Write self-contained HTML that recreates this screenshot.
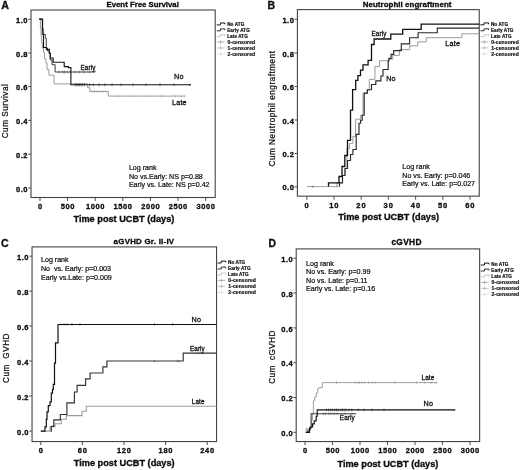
<!DOCTYPE html>
<html>
<head>
<meta charset="utf-8">
<title>Figure</title>
<style>
html, body { margin: 0; padding: 0; background: #ffffff; }
body { width: 520px; height: 470px; overflow: hidden; font-family: "Liberation Sans", sans-serif; }
svg { display: block; font-family: "Liberation Sans", sans-serif; filter: blur(0.35px); }
</style>
</head>
<body>
<svg width="520" height="470" viewBox="0 0 520 470">
<rect x="0" y="0" width="520" height="470" fill="#ffffff"/>
<rect x="31.00" y="10.00" width="184.20" height="187.50" fill="none" stroke="#444444" stroke-width="1.1"/>
<text x="1.20" y="9.10" font-size="10.70" font-weight="bold" text-anchor="start" fill="#111" stroke="#000" stroke-width="0.3">A</text>
<text x="142.70" y="7.30" font-size="7.80" font-weight="bold" text-anchor="middle" fill="#111" stroke="#000" stroke-width="0.3">Event Free Survival</text>
<line x1="28.20" y1="19.25" x2="31.00" y2="19.25" stroke="#444444" stroke-width="0.95"/>
<text x="28.00" y="22.85" font-size="7.50" font-weight="bold" text-anchor="end" fill="#111" letter-spacing="0.50" stroke="#000" stroke-width="0.3">1.0</text>
<line x1="28.20" y1="53.00" x2="31.00" y2="53.00" stroke="#444444" stroke-width="0.95"/>
<text x="28.00" y="56.60" font-size="7.50" font-weight="bold" text-anchor="end" fill="#111" letter-spacing="0.50" stroke="#000" stroke-width="0.3">0.8</text>
<line x1="28.20" y1="86.50" x2="31.00" y2="86.50" stroke="#444444" stroke-width="0.95"/>
<text x="28.00" y="90.10" font-size="7.50" font-weight="bold" text-anchor="end" fill="#111" letter-spacing="0.50" stroke="#000" stroke-width="0.3">0.6</text>
<line x1="28.20" y1="120.40" x2="31.00" y2="120.40" stroke="#444444" stroke-width="0.95"/>
<text x="28.00" y="124.00" font-size="7.50" font-weight="bold" text-anchor="end" fill="#111" letter-spacing="0.50" stroke="#000" stroke-width="0.3">0.4</text>
<line x1="28.20" y1="154.20" x2="31.00" y2="154.20" stroke="#444444" stroke-width="0.95"/>
<text x="28.00" y="157.80" font-size="7.50" font-weight="bold" text-anchor="end" fill="#111" letter-spacing="0.50" stroke="#000" stroke-width="0.3">0.2</text>
<line x1="28.20" y1="188.00" x2="31.00" y2="188.00" stroke="#444444" stroke-width="0.95"/>
<text x="28.00" y="191.60" font-size="7.50" font-weight="bold" text-anchor="end" fill="#111" letter-spacing="0.50" stroke="#000" stroke-width="0.3">0.0</text>
<line x1="40.00" y1="197.50" x2="40.00" y2="201.00" stroke="#444444" stroke-width="0.95"/>
<text x="40.30" y="209.00" font-size="7.50" font-weight="bold" text-anchor="middle" fill="#111" letter-spacing="0.60" stroke="#000" stroke-width="0.3">0</text>
<line x1="67.60" y1="197.50" x2="67.60" y2="201.00" stroke="#444444" stroke-width="0.95"/>
<text x="67.90" y="209.00" font-size="7.50" font-weight="bold" text-anchor="middle" fill="#111" letter-spacing="0.60" stroke="#000" stroke-width="0.3">500</text>
<line x1="95.20" y1="197.50" x2="95.20" y2="201.00" stroke="#444444" stroke-width="0.95"/>
<text x="95.50" y="209.00" font-size="7.50" font-weight="bold" text-anchor="middle" fill="#111" letter-spacing="0.60" stroke="#000" stroke-width="0.3">1000</text>
<line x1="122.80" y1="197.50" x2="122.80" y2="201.00" stroke="#444444" stroke-width="0.95"/>
<text x="123.10" y="209.00" font-size="7.50" font-weight="bold" text-anchor="middle" fill="#111" letter-spacing="0.60" stroke="#000" stroke-width="0.3">1500</text>
<line x1="150.40" y1="197.50" x2="150.40" y2="201.00" stroke="#444444" stroke-width="0.95"/>
<text x="150.70" y="209.00" font-size="7.50" font-weight="bold" text-anchor="middle" fill="#111" letter-spacing="0.60" stroke="#000" stroke-width="0.3">2000</text>
<line x1="178.00" y1="197.50" x2="178.00" y2="201.00" stroke="#444444" stroke-width="0.95"/>
<text x="178.30" y="209.00" font-size="7.50" font-weight="bold" text-anchor="middle" fill="#111" letter-spacing="0.60" stroke="#000" stroke-width="0.3">2500</text>
<line x1="205.70" y1="197.50" x2="205.70" y2="201.00" stroke="#444444" stroke-width="0.95"/>
<text x="206.00" y="209.00" font-size="7.50" font-weight="bold" text-anchor="middle" fill="#111" letter-spacing="0.60" stroke="#000" stroke-width="0.3">3000</text>
<text x="7.70" y="111.00" font-size="8.20" text-anchor="middle" fill="#111" letter-spacing="0.50" transform="rotate(-90 7.70 111.00)" stroke="#111" stroke-width="0.25">Cum Survival</text>
<text x="123.90" y="221.80" font-size="9.20" font-weight="bold" text-anchor="middle" fill="#111" stroke="#000" stroke-width="0.3">Time post UCBT (days)</text>
<path d="M39.20 19.10 L40.40 19.10 L40.40 28.00 L41.00 28.00 L41.00 36.00 L41.60 36.00 L41.60 43.00 L42.40 43.00 L42.40 48.00 L43.50 48.00 L43.50 52.30 L44.50 52.30 L44.50 59.00 L45.90 59.00 L45.90 62.80 L47.00 62.80 L47.00 69.50 L48.90 69.50 L48.90 75.20 L54.10 75.20 L54.10 83.90 L87.60 83.90 L87.60 87.70 L89.90 87.70 L89.90 91.50 L108.30 91.50 L108.30 96.10 L185.00 96.10" fill="none" stroke="#9a9a9a" stroke-width="1.00" stroke-linejoin="miter"/>
<line x1="92.00" y1="90.10" x2="92.00" y2="92.90" stroke="#9a9a9a" stroke-width="0.50"/>
<line x1="94.50" y1="90.10" x2="94.50" y2="92.90" stroke="#9a9a9a" stroke-width="0.50"/>
<line x1="97.00" y1="90.10" x2="97.00" y2="92.90" stroke="#9a9a9a" stroke-width="0.50"/>
<line x1="100.00" y1="90.10" x2="100.00" y2="92.90" stroke="#9a9a9a" stroke-width="0.50"/>
<line x1="103.00" y1="90.10" x2="103.00" y2="92.90" stroke="#9a9a9a" stroke-width="0.50"/>
<line x1="106.00" y1="90.10" x2="106.00" y2="92.90" stroke="#9a9a9a" stroke-width="0.50"/>
<line x1="118.00" y1="94.70" x2="118.00" y2="97.50" stroke="#9a9a9a" stroke-width="0.50"/>
<line x1="131.00" y1="94.70" x2="131.00" y2="97.50" stroke="#9a9a9a" stroke-width="0.50"/>
<line x1="147.00" y1="94.70" x2="147.00" y2="97.50" stroke="#9a9a9a" stroke-width="0.50"/>
<line x1="161.00" y1="94.70" x2="161.00" y2="97.50" stroke="#9a9a9a" stroke-width="0.50"/>
<line x1="175.00" y1="94.70" x2="175.00" y2="97.50" stroke="#9a9a9a" stroke-width="0.50"/>
<line x1="181.00" y1="94.70" x2="181.00" y2="97.50" stroke="#9a9a9a" stroke-width="0.50"/>
<line x1="185.00" y1="94.70" x2="185.00" y2="97.50" stroke="#9a9a9a" stroke-width="0.50"/>
<path d="M39.20 19.10 L42.30 19.10 L42.30 34.40 L45.30 34.40 L45.30 38.50 L46.30 38.50 L46.30 48.00 L47.50 48.00 L47.50 51.00 L49.30 51.00 L49.30 53.20 L50.20 53.20 L50.20 59.90 L52.00 59.90 L52.00 64.70 L55.10 64.70 L55.10 72.00 L95.00 72.00 L95.00 70.60" fill="none" stroke="#3c3c3c" stroke-width="1.00" stroke-linejoin="miter"/>
<line x1="58.90" y1="70.50" x2="58.90" y2="73.50" stroke="#3c3c3c" stroke-width="0.50"/>
<line x1="62.70" y1="70.50" x2="62.70" y2="73.50" stroke="#3c3c3c" stroke-width="0.50"/>
<line x1="64.60" y1="70.50" x2="64.60" y2="73.50" stroke="#3c3c3c" stroke-width="0.50"/>
<line x1="67.50" y1="70.50" x2="67.50" y2="73.50" stroke="#3c3c3c" stroke-width="0.50"/>
<line x1="70.40" y1="70.50" x2="70.40" y2="73.50" stroke="#3c3c3c" stroke-width="0.50"/>
<line x1="75.10" y1="70.50" x2="75.10" y2="73.50" stroke="#3c3c3c" stroke-width="0.50"/>
<line x1="79.00" y1="70.50" x2="79.00" y2="73.50" stroke="#3c3c3c" stroke-width="0.50"/>
<line x1="83.80" y1="70.50" x2="83.80" y2="73.50" stroke="#3c3c3c" stroke-width="0.50"/>
<line x1="89.50" y1="70.50" x2="89.50" y2="73.50" stroke="#3c3c3c" stroke-width="0.50"/>
<path d="M39.20 19.10 L42.60 19.10 L42.60 29.00 L43.10 29.00 L43.10 34.40 L43.50 34.40 L43.50 38.00 L43.50 47.50 L46.40 47.50 L46.40 49.40 L49.30 49.40 L49.30 53.20 L50.30 53.20 L50.30 58.00 L53.10 58.00 L53.10 62.20 L64.20 62.20 L64.20 66.60 L68.40 66.60 L68.40 67.60 L70.90 67.60 L70.90 84.80 L190.00 84.80" fill="none" stroke="#111111" stroke-width="1.10" stroke-linejoin="miter"/>
<line x1="75.00" y1="83.30" x2="75.00" y2="86.30" stroke="#111111" stroke-width="0.50"/>
<line x1="76.50" y1="83.30" x2="76.50" y2="86.30" stroke="#111111" stroke-width="0.50"/>
<line x1="78.00" y1="83.30" x2="78.00" y2="86.30" stroke="#111111" stroke-width="0.50"/>
<line x1="79.50" y1="83.30" x2="79.50" y2="86.30" stroke="#111111" stroke-width="0.50"/>
<line x1="81.00" y1="83.30" x2="81.00" y2="86.30" stroke="#111111" stroke-width="0.50"/>
<line x1="82.50" y1="83.30" x2="82.50" y2="86.30" stroke="#111111" stroke-width="0.50"/>
<line x1="84.50" y1="83.30" x2="84.50" y2="86.30" stroke="#111111" stroke-width="0.50"/>
<line x1="89.50" y1="83.30" x2="89.50" y2="86.30" stroke="#111111" stroke-width="0.50"/>
<line x1="93.30" y1="83.30" x2="93.30" y2="86.30" stroke="#111111" stroke-width="0.50"/>
<line x1="99.00" y1="83.30" x2="99.00" y2="86.30" stroke="#111111" stroke-width="0.50"/>
<line x1="104.80" y1="83.30" x2="104.80" y2="86.30" stroke="#111111" stroke-width="0.50"/>
<line x1="112.00" y1="83.30" x2="112.00" y2="86.30" stroke="#111111" stroke-width="0.50"/>
<line x1="121.00" y1="83.30" x2="121.00" y2="86.30" stroke="#111111" stroke-width="0.50"/>
<line x1="133.00" y1="83.30" x2="133.00" y2="86.30" stroke="#111111" stroke-width="0.50"/>
<line x1="146.00" y1="83.30" x2="146.00" y2="86.30" stroke="#111111" stroke-width="0.50"/>
<line x1="160.00" y1="83.30" x2="160.00" y2="86.30" stroke="#111111" stroke-width="0.50"/>
<line x1="174.00" y1="83.30" x2="174.00" y2="86.30" stroke="#111111" stroke-width="0.50"/>
<circle cx="190" cy="84.8" r="1" fill="#3c3c3c"/>
<text x="80.50" y="70.30" font-size="6.30" text-anchor="start" fill="#111" letter-spacing="0.15" stroke="#111" stroke-width="0.3">Early</text>
<text x="174.00" y="78.50" font-size="7.20" text-anchor="start" fill="#111" letter-spacing="0.20" stroke="#111" stroke-width="0.3">No</text>
<text x="172.00" y="104.50" font-size="7.20" text-anchor="start" fill="#111" letter-spacing="0.20" stroke="#111" stroke-width="0.3">Late</text>
<text x="128.90" y="170.10" font-size="7.10" text-anchor="start" fill="#111" stroke="#111" stroke-width="0.22">Log rank</text>
<text x="128.90" y="178.70" font-size="7.10" text-anchor="start" fill="#111" stroke="#111" stroke-width="0.22">No vs.Early: NS p=0.88</text>
<text x="128.90" y="187.40" font-size="7.10" text-anchor="start" fill="#111" stroke="#111" stroke-width="0.22">Early vs. Late: NS p=0.42</text>
<path d="M216.70 24.90 h3.7 v-1.9 h4.5 v1.3" fill="none" stroke="#151515" stroke-width="1.0"/>
<text x="227.20" y="26.00" font-size="4.65" font-weight="bold" text-anchor="start" fill="#111" letter-spacing="0.08" stroke="#111" stroke-width="0.2">No ATG</text>
<path d="M216.70 30.82 h3.7 v-1.9 h4.5 v1.3" fill="none" stroke="#2e2e2e" stroke-width="1.0"/>
<text x="227.20" y="31.92" font-size="4.65" font-weight="bold" text-anchor="start" fill="#111" letter-spacing="0.08" stroke="#111" stroke-width="0.2">Early ATG</text>
<path d="M216.70 36.74 h3.7 v-1.9 h4.5 v1.3" fill="none" stroke="#b0b0b0" stroke-width="0.7"/>
<text x="227.20" y="37.84" font-size="4.65" font-weight="bold" text-anchor="start" fill="#111" letter-spacing="0.08" stroke="#111" stroke-width="0.2">Late ATG</text>
<path d="M217.00 42.06 h7.4 M220.60 40.36 v3.4" fill="none" stroke="#6a6a6a" stroke-width="0.5"/>
<text x="227.50" y="43.76" font-size="5.00" font-weight="bold" text-anchor="start" fill="#111" letter-spacing="0.10" stroke="#111" stroke-width="0.2">0-censored</text>
<path d="M217.00 47.98 h7.4 M220.60 46.28 v3.4" fill="none" stroke="#8a8a8a" stroke-width="0.5"/>
<text x="227.50" y="49.68" font-size="5.00" font-weight="bold" text-anchor="start" fill="#111" letter-spacing="0.10" stroke="#111" stroke-width="0.2">1-censored</text>
<path d="M217.00 53.90 h7.4 M220.60 52.20 v3.4" fill="none" stroke="#c4c4c4" stroke-width="0.5"/>
<text x="227.50" y="55.60" font-size="5.00" font-weight="bold" text-anchor="start" fill="#111" letter-spacing="0.10" stroke="#111" stroke-width="0.2">2-censored</text>
<rect x="297.40" y="9.60" width="181.85" height="186.55" fill="none" stroke="#444444" stroke-width="1.1"/>
<text x="267.50" y="9.25" font-size="10.50" font-weight="bold" text-anchor="start" fill="#111" stroke="#000" stroke-width="0.3">B</text>
<text x="407.10" y="6.90" font-size="7.90" font-weight="bold" text-anchor="middle" fill="#111" letter-spacing="0.07" stroke="#000" stroke-width="0.3">Neutrophil engraftment</text>
<line x1="294.60" y1="19.25" x2="297.40" y2="19.25" stroke="#444444" stroke-width="0.95"/>
<text x="294.40" y="22.85" font-size="7.50" font-weight="bold" text-anchor="end" fill="#111" letter-spacing="0.50" stroke="#000" stroke-width="0.3">1.0</text>
<line x1="294.60" y1="53.00" x2="297.40" y2="53.00" stroke="#444444" stroke-width="0.95"/>
<text x="294.40" y="56.60" font-size="7.50" font-weight="bold" text-anchor="end" fill="#111" letter-spacing="0.50" stroke="#000" stroke-width="0.3">0.8</text>
<line x1="294.60" y1="86.50" x2="297.40" y2="86.50" stroke="#444444" stroke-width="0.95"/>
<text x="294.40" y="90.10" font-size="7.50" font-weight="bold" text-anchor="end" fill="#111" letter-spacing="0.50" stroke="#000" stroke-width="0.3">0.6</text>
<line x1="294.60" y1="120.00" x2="297.40" y2="120.00" stroke="#444444" stroke-width="0.95"/>
<text x="294.40" y="123.60" font-size="7.50" font-weight="bold" text-anchor="end" fill="#111" letter-spacing="0.50" stroke="#000" stroke-width="0.3">0.4</text>
<line x1="294.60" y1="153.50" x2="297.40" y2="153.50" stroke="#444444" stroke-width="0.95"/>
<text x="294.40" y="157.10" font-size="7.50" font-weight="bold" text-anchor="end" fill="#111" letter-spacing="0.50" stroke="#000" stroke-width="0.3">0.2</text>
<line x1="294.60" y1="186.80" x2="297.40" y2="186.80" stroke="#444444" stroke-width="0.95"/>
<text x="294.40" y="190.40" font-size="7.50" font-weight="bold" text-anchor="end" fill="#111" letter-spacing="0.50" stroke="#000" stroke-width="0.3">0.0</text>
<line x1="306.80" y1="196.15" x2="306.80" y2="199.65" stroke="#444444" stroke-width="0.95"/>
<text x="307.10" y="207.65" font-size="7.50" font-weight="bold" text-anchor="middle" fill="#111" letter-spacing="1.00" stroke="#000" stroke-width="0.3">0</text>
<line x1="334.00" y1="196.15" x2="334.00" y2="199.65" stroke="#444444" stroke-width="0.95"/>
<text x="334.30" y="207.65" font-size="7.50" font-weight="bold" text-anchor="middle" fill="#111" letter-spacing="1.00" stroke="#000" stroke-width="0.3">10</text>
<line x1="361.20" y1="196.15" x2="361.20" y2="199.65" stroke="#444444" stroke-width="0.95"/>
<text x="361.50" y="207.65" font-size="7.50" font-weight="bold" text-anchor="middle" fill="#111" letter-spacing="1.00" stroke="#000" stroke-width="0.3">20</text>
<line x1="388.40" y1="196.15" x2="388.40" y2="199.65" stroke="#444444" stroke-width="0.95"/>
<text x="388.70" y="207.65" font-size="7.50" font-weight="bold" text-anchor="middle" fill="#111" letter-spacing="1.00" stroke="#000" stroke-width="0.3">30</text>
<line x1="415.60" y1="196.15" x2="415.60" y2="199.65" stroke="#444444" stroke-width="0.95"/>
<text x="415.90" y="207.65" font-size="7.50" font-weight="bold" text-anchor="middle" fill="#111" letter-spacing="1.00" stroke="#000" stroke-width="0.3">40</text>
<line x1="442.80" y1="196.15" x2="442.80" y2="199.65" stroke="#444444" stroke-width="0.95"/>
<text x="443.10" y="207.65" font-size="7.50" font-weight="bold" text-anchor="middle" fill="#111" letter-spacing="1.00" stroke="#000" stroke-width="0.3">50</text>
<line x1="470.00" y1="196.15" x2="470.00" y2="199.65" stroke="#444444" stroke-width="0.95"/>
<text x="470.30" y="207.65" font-size="7.50" font-weight="bold" text-anchor="middle" fill="#111" letter-spacing="1.00" stroke="#000" stroke-width="0.3">60</text>
<text x="274.50" y="108.50" font-size="8.20" text-anchor="middle" fill="#111" letter-spacing="0.50" transform="rotate(-90 274.50 108.50)" stroke="#111" stroke-width="0.25">Cum Neutrophil engraftment</text>
<text x="388.60" y="220.30" font-size="9.20" font-weight="bold" text-anchor="middle" fill="#111" stroke="#000" stroke-width="0.3">Time post UCBT (days)</text>
<line x1="307" y1="186.60" x2="339.5" y2="186.60" stroke="#777" stroke-width="0.7"/>
<path d="M311.2 186.60 l2.2 -1.2 v2.4 z" fill="#666"/>
<path d="M336.80 186.60 L336.80 182.80 L339.50 182.80 L339.50 182.80 L342.50 182.80 L342.50 175.50 L345.00 175.50 L345.00 168.50 L346.90 168.50 L346.90 148.50 L349.50 148.50 L349.50 143.40 L352.90 143.40 L352.90 136.40 L355.60 136.40 L355.60 119.20 L360.60 119.20 L360.60 115.20 L363.00 115.20 L363.00 93.40 L367.30 93.40 L367.30 89.70 L369.30 89.70 L369.30 79.40 L374.90 79.40 L374.90 66.60 L379.50 66.60 L379.50 60.70 L388.80 60.70 L388.80 59.20 L392.70 59.20 L392.70 55.40 L399.40 55.40 L399.40 49.60 L409.60 49.60 L409.60 45.80 L417.70 45.80 L417.70 41.90 L426.30 41.90 L426.30 37.70 L461.90 37.70 L461.90 33.80 L479.25 33.80" fill="none" stroke="#9a9a9a" stroke-width="1.00" stroke-linejoin="miter"/>
<path d="M339.50 186.60 L339.50 182.80 L342.50 182.80 L342.50 175.50 L345.00 175.50 L345.00 168.50 L347.50 168.50 L347.50 160.50 L350.50 160.50 L350.50 154.50 L352.90 154.50 L352.90 149.50 L356.20 149.50 L356.20 134.30 L359.00 134.30 L359.00 123.20 L360.60 123.20 L360.60 120.20 L362.20 120.20 L362.20 115.20 L364.20 115.20 L364.20 93.10 L367.30 93.10 L367.30 89.70 L371.50 89.70 L371.50 84.50 L375.80 84.50 L375.80 80.80 L380.90 80.80 L380.90 76.00 L383.00 76.00 L383.00 69.50 L388.20 69.50 L388.20 61.20 L388.80 61.20 L388.80 58.30 L391.10 58.30 L391.10 54.40 L393.70 54.40 L393.70 50.60 L401.30 50.60 L401.30 43.80 L409.60 43.80 L409.60 37.70 L418.10 37.70 L418.10 32.70 L437.30 32.70 L437.30 28.10 L479.25 28.10" fill="none" stroke="#2a2a2a" stroke-width="1.15" stroke-linejoin="miter"/>
<path d="M328.50 186.60 L328.50 182.80 L339.00 182.80 L339.00 176.50 L342.00 176.50 L342.00 166.50 L344.80 166.50 L344.80 155.50 L347.50 155.50 L347.50 140.40 L350.50 140.40 L350.50 110.10 L352.60 110.10 L352.60 89.70 L355.70 89.70 L355.70 80.30 L357.90 80.30 L357.90 75.70 L360.50 75.70 L360.50 70.10 L363.00 70.10 L363.00 64.90 L368.10 64.90 L368.10 60.30 L371.50 60.30 L371.50 44.50 L374.10 44.50 L374.10 39.00 L390.80 39.00 L390.80 34.20 L402.70 34.20 L402.70 29.40 L421.20 29.40 L421.20 24.20 L479.25 24.20" fill="none" stroke="#111111" stroke-width="1.30" stroke-linejoin="miter"/>
<text x="371.50" y="36.40" font-size="6.30" text-anchor="start" fill="#111" letter-spacing="0.15" stroke="#111" stroke-width="0.3">Early</text>
<text x="386.20" y="81.20" font-size="7.20" text-anchor="start" fill="#111" letter-spacing="0.20" stroke="#111" stroke-width="0.3">No</text>
<text x="445.30" y="45.70" font-size="7.20" text-anchor="start" fill="#111" letter-spacing="0.20" stroke="#111" stroke-width="0.3">Late</text>
<text x="402.30" y="169.40" font-size="7.10" text-anchor="start" fill="#111" stroke="#111" stroke-width="0.22">Log rank</text>
<text x="402.30" y="177.80" font-size="7.10" text-anchor="start" fill="#111" stroke="#111" stroke-width="0.22">No vs. Early: p=0.046</text>
<text x="402.30" y="186.30" font-size="7.10" text-anchor="start" fill="#111" stroke="#111" stroke-width="0.22">Early vs. Late: p=0.027</text>
<path d="M480.40 24.80 h3.7 v-1.9 h4.5 v1.3" fill="none" stroke="#151515" stroke-width="1.0"/>
<text x="490.90" y="25.90" font-size="4.65" font-weight="bold" text-anchor="start" fill="#111" letter-spacing="0.08" stroke="#111" stroke-width="0.2">No ATG</text>
<path d="M480.40 30.72 h3.7 v-1.9 h4.5 v1.3" fill="none" stroke="#2e2e2e" stroke-width="1.0"/>
<text x="490.90" y="31.82" font-size="4.65" font-weight="bold" text-anchor="start" fill="#111" letter-spacing="0.08" stroke="#111" stroke-width="0.2">Early ATG</text>
<path d="M480.40 36.64 h3.7 v-1.9 h4.5 v1.3" fill="none" stroke="#b0b0b0" stroke-width="0.7"/>
<text x="490.90" y="37.74" font-size="4.65" font-weight="bold" text-anchor="start" fill="#111" letter-spacing="0.08" stroke="#111" stroke-width="0.2">Late ATG</text>
<path d="M480.70 41.96 h7.4 M484.30 40.26 v3.4" fill="none" stroke="#6a6a6a" stroke-width="0.5"/>
<text x="491.20" y="43.66" font-size="5.00" font-weight="bold" text-anchor="start" fill="#111" letter-spacing="0.10" stroke="#111" stroke-width="0.2">0-censored</text>
<path d="M480.70 47.88 h7.4 M484.30 46.18 v3.4" fill="none" stroke="#8a8a8a" stroke-width="0.5"/>
<text x="491.20" y="49.58" font-size="5.00" font-weight="bold" text-anchor="start" fill="#111" letter-spacing="0.10" stroke="#111" stroke-width="0.2">1-censored</text>
<path d="M480.70 53.80 h7.4 M484.30 52.10 v3.4" fill="none" stroke="#c4c4c4" stroke-width="0.5"/>
<text x="491.20" y="55.50" font-size="5.00" font-weight="bold" text-anchor="start" fill="#111" letter-spacing="0.10" stroke="#111" stroke-width="0.2">2-censored</text>
<rect x="32.05" y="246.90" width="184.50" height="194.65" fill="none" stroke="#444444" stroke-width="1.1"/>
<text x="1.00" y="246.60" font-size="10.60" font-weight="bold" text-anchor="start" fill="#111" stroke="#000" stroke-width="0.3">C</text>
<text x="144.00" y="244.20" font-size="7.90" font-weight="bold" text-anchor="middle" fill="#111" letter-spacing="0.25" stroke="#000" stroke-width="0.3">aGVHD Gr. II-IV</text>
<line x1="29.25" y1="256.20" x2="32.05" y2="256.20" stroke="#444444" stroke-width="0.95"/>
<text x="29.05" y="259.80" font-size="7.50" font-weight="bold" text-anchor="end" fill="#111" letter-spacing="0.50" stroke="#000" stroke-width="0.3">1.0</text>
<line x1="29.25" y1="291.10" x2="32.05" y2="291.10" stroke="#444444" stroke-width="0.95"/>
<text x="29.05" y="294.70" font-size="7.50" font-weight="bold" text-anchor="end" fill="#111" letter-spacing="0.50" stroke="#000" stroke-width="0.3">0.8</text>
<line x1="29.25" y1="326.00" x2="32.05" y2="326.00" stroke="#444444" stroke-width="0.95"/>
<text x="29.05" y="329.60" font-size="7.50" font-weight="bold" text-anchor="end" fill="#111" letter-spacing="0.50" stroke="#000" stroke-width="0.3">0.6</text>
<line x1="29.25" y1="361.00" x2="32.05" y2="361.00" stroke="#444444" stroke-width="0.95"/>
<text x="29.05" y="364.60" font-size="7.50" font-weight="bold" text-anchor="end" fill="#111" letter-spacing="0.50" stroke="#000" stroke-width="0.3">0.4</text>
<line x1="29.25" y1="396.00" x2="32.05" y2="396.00" stroke="#444444" stroke-width="0.95"/>
<text x="29.05" y="399.60" font-size="7.50" font-weight="bold" text-anchor="end" fill="#111" letter-spacing="0.50" stroke="#000" stroke-width="0.3">0.2</text>
<line x1="29.25" y1="431.10" x2="32.05" y2="431.10" stroke="#444444" stroke-width="0.95"/>
<text x="29.05" y="434.70" font-size="7.50" font-weight="bold" text-anchor="end" fill="#111" letter-spacing="0.50" stroke="#000" stroke-width="0.3">0.0</text>
<line x1="40.80" y1="441.55" x2="40.80" y2="445.05" stroke="#444444" stroke-width="0.95"/>
<text x="41.10" y="453.05" font-size="7.50" font-weight="bold" text-anchor="middle" fill="#111" letter-spacing="0.70" stroke="#000" stroke-width="0.3">0</text>
<line x1="82.40" y1="441.55" x2="82.40" y2="445.05" stroke="#444444" stroke-width="0.95"/>
<text x="82.70" y="453.05" font-size="7.50" font-weight="bold" text-anchor="middle" fill="#111" letter-spacing="0.70" stroke="#000" stroke-width="0.3">60</text>
<line x1="124.00" y1="441.55" x2="124.00" y2="445.05" stroke="#444444" stroke-width="0.95"/>
<text x="124.30" y="453.05" font-size="7.50" font-weight="bold" text-anchor="middle" fill="#111" letter-spacing="0.70" stroke="#000" stroke-width="0.3">120</text>
<line x1="165.60" y1="441.55" x2="165.60" y2="445.05" stroke="#444444" stroke-width="0.95"/>
<text x="165.90" y="453.05" font-size="7.50" font-weight="bold" text-anchor="middle" fill="#111" letter-spacing="0.70" stroke="#000" stroke-width="0.3">180</text>
<line x1="207.20" y1="441.55" x2="207.20" y2="445.05" stroke="#444444" stroke-width="0.95"/>
<text x="207.50" y="453.05" font-size="7.50" font-weight="bold" text-anchor="middle" fill="#111" letter-spacing="0.70" stroke="#000" stroke-width="0.3">240</text>
<text x="9.20" y="358.00" font-size="8.20" text-anchor="middle" fill="#111" letter-spacing="0.50" transform="rotate(-90 9.20 358.00)" xml:space="preserve" stroke="#111" stroke-width="0.25">Cum  GVHD</text>
<text x="124.20" y="466.00" font-size="9.20" font-weight="bold" text-anchor="middle" fill="#111" stroke="#000" stroke-width="0.3">Time post UCBT (days)</text>
<line x1="40.8" y1="431.10" x2="50" y2="431.10" stroke="#666" stroke-width="0.8"/>
<path d="M50.00 431.10 L50.00 426.80 L55.00 426.80 L55.00 423.80 L61.30 423.80 L61.30 419.30 L66.30 419.30 L66.30 415.60 L82.00 415.60 L82.00 411.30 L86.30 411.30 L86.30 406.30 L216.55 406.30" fill="none" stroke="#9a9a9a" stroke-width="1.05" stroke-linejoin="miter"/>
<path d="M50.50 431.10 L51.30 431.10 L51.30 426.30 L53.80 426.30 L53.80 419.80 L60.30 419.80 L60.30 414.50 L66.90 414.50 L66.90 402.90 L74.40 402.90 L74.40 392.00 L77.10 392.00 L77.10 385.40 L85.60 385.40 L85.60 378.90 L90.10 378.90 L90.10 373.00 L102.90 373.00 L102.90 366.90 L106.90 366.90 L106.90 361.00 L183.20 361.00 L183.20 353.10 L216.55 353.10" fill="none" stroke="#333333" stroke-width="1.15" stroke-linejoin="miter"/>
<line x1="154.50" y1="359.80" x2="154.50" y2="362.20" stroke="#333" stroke-width="0.50"/>
<line x1="177.40" y1="359.80" x2="177.40" y2="362.20" stroke="#333" stroke-width="0.50"/>
<line x1="179.30" y1="359.80" x2="179.30" y2="362.20" stroke="#333" stroke-width="0.50"/>
<line x1="197.00" y1="351.90" x2="197.00" y2="354.30" stroke="#333" stroke-width="0.50"/>
<line x1="200.00" y1="351.90" x2="200.00" y2="354.30" stroke="#333" stroke-width="0.50"/>
<line x1="203.00" y1="351.90" x2="203.00" y2="354.30" stroke="#333" stroke-width="0.50"/>
<path d="M40.80 431.10 L45.00 431.10 L45.00 426.80 L46.30 426.80 L46.30 419.30 L47.00 419.30 L47.00 411.80 L48.30 411.80 L48.30 405.60 L50.00 405.60 L50.00 401.80 L51.30 401.80 L51.30 393.10 L52.50 393.10 L52.50 389.30 L53.30 389.30 L53.30 384.30 L54.50 384.30 L54.50 363.10 L55.50 363.10 L55.50 342.80 L58.00 342.80 L58.00 324.50 L216.55 324.50" fill="none" stroke="#111111" stroke-width="1.20" stroke-linejoin="miter"/>
<line x1="61.00" y1="323.20" x2="61.00" y2="325.80" stroke="#111111" stroke-width="0.50"/>
<line x1="64.00" y1="323.20" x2="64.00" y2="325.80" stroke="#111111" stroke-width="0.50"/>
<line x1="67.00" y1="323.20" x2="67.00" y2="325.80" stroke="#111111" stroke-width="0.50"/>
<line x1="72.00" y1="323.20" x2="72.00" y2="325.80" stroke="#111111" stroke-width="0.50"/>
<line x1="80.00" y1="323.20" x2="80.00" y2="325.80" stroke="#111111" stroke-width="0.50"/>
<line x1="154.50" y1="323.20" x2="154.50" y2="325.80" stroke="#111111" stroke-width="0.50"/>
<line x1="172.70" y1="323.20" x2="172.70" y2="325.80" stroke="#111111" stroke-width="0.50"/>
<text x="191.50" y="322.00" font-size="7.20" text-anchor="start" fill="#111" letter-spacing="0.20" stroke="#111" stroke-width="0.3">No</text>
<text x="190.00" y="351.00" font-size="6.30" text-anchor="start" fill="#111" letter-spacing="0.10" stroke="#111" stroke-width="0.3">Early</text>
<text x="191.80" y="404.20" font-size="6.30" text-anchor="start" fill="#111" letter-spacing="0.15" stroke="#111" stroke-width="0.3">Late</text>
<text x="41.00" y="262.40" font-size="7.10" text-anchor="start" fill="#111" stroke="#111" stroke-width="0.22">Log rank</text>
<text x="41.00" y="270.80" font-size="7.10" text-anchor="start" fill="#111" xml:space="preserve" stroke="#111" stroke-width="0.22">No  vs. Early: p=0.003</text>
<text x="41.00" y="279.50" font-size="7.10" text-anchor="start" fill="#111" stroke="#111" stroke-width="0.22">Early vs.Late: p=0.009</text>
<path d="M217.50 263.00 h3.7 v-1.9 h4.5 v1.3" fill="none" stroke="#151515" stroke-width="1.0"/>
<text x="228.00" y="264.10" font-size="4.65" font-weight="bold" text-anchor="start" fill="#111" letter-spacing="0.08" stroke="#111" stroke-width="0.2">No ATG</text>
<path d="M217.50 269.00 h3.7 v-1.9 h4.5 v1.3" fill="none" stroke="#2e2e2e" stroke-width="1.0"/>
<text x="228.00" y="270.10" font-size="4.65" font-weight="bold" text-anchor="start" fill="#111" letter-spacing="0.08" stroke="#111" stroke-width="0.2">Early ATG</text>
<path d="M217.50 275.00 h3.7 v-1.9 h4.5 v1.3" fill="none" stroke="#b0b0b0" stroke-width="0.7"/>
<text x="228.00" y="276.10" font-size="4.65" font-weight="bold" text-anchor="start" fill="#111" letter-spacing="0.08" stroke="#111" stroke-width="0.2">Late ATG</text>
<path d="M217.80 280.40 h7.4 M221.40 278.70 v3.4" fill="none" stroke="#6a6a6a" stroke-width="0.5"/>
<text x="228.30" y="282.10" font-size="5.00" font-weight="bold" text-anchor="start" fill="#111" letter-spacing="0.10" stroke="#111" stroke-width="0.2">0-censored</text>
<path d="M217.80 286.40 h7.4 M221.40 284.70 v3.4" fill="none" stroke="#8a8a8a" stroke-width="0.5"/>
<text x="228.30" y="288.10" font-size="5.00" font-weight="bold" text-anchor="start" fill="#111" letter-spacing="0.10" stroke="#111" stroke-width="0.2">1-censored</text>
<path d="M217.80 292.40 h7.4 M221.40 290.70 v3.4" fill="none" stroke="#c4c4c4" stroke-width="0.5"/>
<text x="228.30" y="294.10" font-size="5.00" font-weight="bold" text-anchor="start" fill="#111" letter-spacing="0.10" stroke="#111" stroke-width="0.2">2-censored</text>
<rect x="296.20" y="248.90" width="183.45" height="192.65" fill="none" stroke="#444444" stroke-width="1.1"/>
<text x="268.50" y="246.70" font-size="10.40" font-weight="bold" text-anchor="start" fill="#111" stroke="#000" stroke-width="0.3">D</text>
<text x="406.60" y="245.00" font-size="8.40" font-weight="bold" text-anchor="middle" fill="#111" letter-spacing="0.30" stroke="#000" stroke-width="0.3">cGVHD</text>
<line x1="293.40" y1="258.20" x2="296.20" y2="258.20" stroke="#444444" stroke-width="0.95"/>
<text x="293.20" y="261.80" font-size="7.50" font-weight="bold" text-anchor="end" fill="#111" letter-spacing="0.50" stroke="#000" stroke-width="0.3">1.0</text>
<line x1="293.40" y1="293.00" x2="296.20" y2="293.00" stroke="#444444" stroke-width="0.95"/>
<text x="293.20" y="296.60" font-size="7.50" font-weight="bold" text-anchor="end" fill="#111" letter-spacing="0.50" stroke="#000" stroke-width="0.3">0.8</text>
<line x1="293.40" y1="327.90" x2="296.20" y2="327.90" stroke="#444444" stroke-width="0.95"/>
<text x="293.20" y="331.50" font-size="7.50" font-weight="bold" text-anchor="end" fill="#111" letter-spacing="0.50" stroke="#000" stroke-width="0.3">0.6</text>
<line x1="293.40" y1="362.70" x2="296.20" y2="362.70" stroke="#444444" stroke-width="0.95"/>
<text x="293.20" y="366.30" font-size="7.50" font-weight="bold" text-anchor="end" fill="#111" letter-spacing="0.50" stroke="#000" stroke-width="0.3">0.4</text>
<line x1="293.40" y1="397.50" x2="296.20" y2="397.50" stroke="#444444" stroke-width="0.95"/>
<text x="293.20" y="401.10" font-size="7.50" font-weight="bold" text-anchor="end" fill="#111" letter-spacing="0.50" stroke="#000" stroke-width="0.3">0.2</text>
<line x1="293.40" y1="432.30" x2="296.20" y2="432.30" stroke="#444444" stroke-width="0.95"/>
<text x="293.20" y="435.90" font-size="7.50" font-weight="bold" text-anchor="end" fill="#111" letter-spacing="0.50" stroke="#000" stroke-width="0.3">0.0</text>
<line x1="305.00" y1="441.55" x2="305.00" y2="445.05" stroke="#444444" stroke-width="0.95"/>
<text x="305.30" y="453.05" font-size="7.50" font-weight="bold" text-anchor="middle" fill="#111" letter-spacing="0.60" stroke="#000" stroke-width="0.3">0</text>
<line x1="332.50" y1="441.55" x2="332.50" y2="445.05" stroke="#444444" stroke-width="0.95"/>
<text x="332.80" y="453.05" font-size="7.50" font-weight="bold" text-anchor="middle" fill="#111" letter-spacing="0.60" stroke="#000" stroke-width="0.3">500</text>
<line x1="360.00" y1="441.55" x2="360.00" y2="445.05" stroke="#444444" stroke-width="0.95"/>
<text x="360.30" y="453.05" font-size="7.50" font-weight="bold" text-anchor="middle" fill="#111" letter-spacing="0.60" stroke="#000" stroke-width="0.3">1000</text>
<line x1="387.50" y1="441.55" x2="387.50" y2="445.05" stroke="#444444" stroke-width="0.95"/>
<text x="387.80" y="453.05" font-size="7.50" font-weight="bold" text-anchor="middle" fill="#111" letter-spacing="0.60" stroke="#000" stroke-width="0.3">1500</text>
<line x1="415.00" y1="441.55" x2="415.00" y2="445.05" stroke="#444444" stroke-width="0.95"/>
<text x="415.30" y="453.05" font-size="7.50" font-weight="bold" text-anchor="middle" fill="#111" letter-spacing="0.60" stroke="#000" stroke-width="0.3">2000</text>
<line x1="442.50" y1="441.55" x2="442.50" y2="445.05" stroke="#444444" stroke-width="0.95"/>
<text x="442.80" y="453.05" font-size="7.50" font-weight="bold" text-anchor="middle" fill="#111" letter-spacing="0.60" stroke="#000" stroke-width="0.3">2500</text>
<line x1="470.00" y1="441.55" x2="470.00" y2="445.05" stroke="#444444" stroke-width="0.95"/>
<text x="470.30" y="453.05" font-size="7.50" font-weight="bold" text-anchor="middle" fill="#111" letter-spacing="0.60" stroke="#000" stroke-width="0.3">3000</text>
<text x="274.70" y="357.00" font-size="8.20" text-anchor="middle" fill="#111" letter-spacing="0.38" transform="rotate(-90 274.70 357.00)" xml:space="preserve" stroke="#111" stroke-width="0.25">Cum  cGVHD</text>
<text x="387.90" y="466.50" font-size="9.20" font-weight="bold" text-anchor="middle" fill="#111" stroke="#000" stroke-width="0.3">Time post UCBT (days)</text>
<path d="M305.30 430.50 L306.30 430.50 L306.30 428.60 L308.20 428.60 L308.20 431.20 L309.80 431.20 L309.80 427.50 L311.60 427.50 L311.60 420.00 L312.50 420.00 L312.50 413.00 L313.40 413.00 L313.40 400.80 L314.60 400.80 L314.60 397.00 L316.20 397.00 L316.20 393.00 L317.70 393.00 L317.70 388.50 L318.80 388.50 L318.80 387.70 L322.30 387.70 L322.30 382.60 L437.50 382.60" fill="none" stroke="#9a9a9a" stroke-width="0.95" stroke-linejoin="miter"/>
<line x1="336.50" y1="381.30" x2="336.50" y2="383.90" stroke="#8a8a8a" stroke-width="0.50"/>
<line x1="354.90" y1="381.30" x2="354.90" y2="383.90" stroke="#8a8a8a" stroke-width="0.50"/>
<line x1="357.20" y1="381.30" x2="357.20" y2="383.90" stroke="#8a8a8a" stroke-width="0.50"/>
<line x1="359.50" y1="381.30" x2="359.50" y2="383.90" stroke="#8a8a8a" stroke-width="0.50"/>
<line x1="361.80" y1="381.30" x2="361.80" y2="383.90" stroke="#8a8a8a" stroke-width="0.50"/>
<line x1="364.90" y1="381.30" x2="364.90" y2="383.90" stroke="#8a8a8a" stroke-width="0.50"/>
<line x1="368.80" y1="381.30" x2="368.80" y2="383.90" stroke="#8a8a8a" stroke-width="0.50"/>
<line x1="372.60" y1="381.30" x2="372.60" y2="383.90" stroke="#8a8a8a" stroke-width="0.50"/>
<line x1="375.70" y1="381.30" x2="375.70" y2="383.90" stroke="#8a8a8a" stroke-width="0.50"/>
<line x1="395.00" y1="381.30" x2="395.00" y2="383.90" stroke="#8a8a8a" stroke-width="0.50"/>
<line x1="416.30" y1="381.30" x2="416.30" y2="383.90" stroke="#8a8a8a" stroke-width="0.50"/>
<line x1="425.00" y1="381.30" x2="425.00" y2="383.90" stroke="#8a8a8a" stroke-width="0.50"/>
<line x1="431.30" y1="381.30" x2="431.30" y2="383.90" stroke="#8a8a8a" stroke-width="0.50"/>
<line x1="436.30" y1="381.30" x2="436.30" y2="383.90" stroke="#8a8a8a" stroke-width="0.50"/>
<path d="M305.70 432.30 L307.50 432.30 L307.50 431.00 L309.50 431.00 L309.50 428.00 L311.10 428.00 L311.10 413.80 L356.30 413.80" fill="none" stroke="#3c3c3c" stroke-width="1.10" stroke-linejoin="miter"/>
<line x1="323.40" y1="412.50" x2="323.40" y2="415.10" stroke="#333" stroke-width="0.50"/>
<line x1="325.70" y1="412.50" x2="325.70" y2="415.10" stroke="#333" stroke-width="0.50"/>
<line x1="328.80" y1="412.50" x2="328.80" y2="415.10" stroke="#333" stroke-width="0.50"/>
<line x1="331.10" y1="412.50" x2="331.10" y2="415.10" stroke="#333" stroke-width="0.50"/>
<line x1="334.20" y1="412.50" x2="334.20" y2="415.10" stroke="#333" stroke-width="0.50"/>
<line x1="337.20" y1="412.50" x2="337.20" y2="415.10" stroke="#333" stroke-width="0.50"/>
<line x1="345.00" y1="412.50" x2="345.00" y2="415.10" stroke="#333" stroke-width="0.50"/>
<line x1="352.00" y1="412.50" x2="352.00" y2="415.10" stroke="#333" stroke-width="0.50"/>
<path d="M305.70 432.30 L309.50 432.30 L309.50 429.20 L310.30 429.20 L310.30 427.00 L312.60 427.00 L312.60 423.80 L314.20 423.80 L314.20 420.80 L316.20 420.80 L316.20 416.20 L317.20 416.20 L317.20 409.90 L454.50 409.90" fill="none" stroke="#111111" stroke-width="1.15" stroke-linejoin="miter"/>
<line x1="326.50" y1="408.50" x2="326.50" y2="411.30" stroke="#111" stroke-width="0.50"/>
<line x1="328.50" y1="408.50" x2="328.50" y2="411.30" stroke="#111" stroke-width="0.50"/>
<line x1="330.60" y1="408.50" x2="330.60" y2="411.30" stroke="#111" stroke-width="0.50"/>
<line x1="332.60" y1="408.50" x2="332.60" y2="411.30" stroke="#111" stroke-width="0.50"/>
<line x1="334.90" y1="408.50" x2="334.90" y2="411.30" stroke="#111" stroke-width="0.50"/>
<line x1="336.50" y1="408.50" x2="336.50" y2="411.30" stroke="#111" stroke-width="0.50"/>
<line x1="338.30" y1="408.50" x2="338.30" y2="411.30" stroke="#111" stroke-width="0.50"/>
<line x1="340.80" y1="408.50" x2="340.80" y2="411.30" stroke="#111" stroke-width="0.50"/>
<line x1="342.60" y1="408.50" x2="342.60" y2="411.30" stroke="#111" stroke-width="0.50"/>
<line x1="344.20" y1="408.50" x2="344.20" y2="411.30" stroke="#111" stroke-width="0.50"/>
<line x1="346.00" y1="408.50" x2="346.00" y2="411.30" stroke="#111" stroke-width="0.50"/>
<line x1="348.80" y1="408.50" x2="348.80" y2="411.30" stroke="#111" stroke-width="0.50"/>
<line x1="351.80" y1="408.50" x2="351.80" y2="411.30" stroke="#111" stroke-width="0.50"/>
<line x1="358.30" y1="408.50" x2="358.30" y2="411.30" stroke="#111" stroke-width="0.50"/>
<line x1="364.20" y1="408.50" x2="364.20" y2="411.30" stroke="#111" stroke-width="0.50"/>
<line x1="372.00" y1="408.50" x2="372.00" y2="411.30" stroke="#111" stroke-width="0.50"/>
<line x1="384.00" y1="408.50" x2="384.00" y2="411.30" stroke="#111" stroke-width="0.50"/>
<circle cx="454.5" cy="409.9" r="0.9" fill="#444"/>
<text x="421.50" y="380.00" font-size="6.30" text-anchor="start" fill="#111" letter-spacing="0.15" stroke="#111" stroke-width="0.3">Late</text>
<text x="423.50" y="406.00" font-size="7.20" text-anchor="start" fill="#111" letter-spacing="0.20" stroke="#111" stroke-width="0.3">No</text>
<text x="339.80" y="419.90" font-size="6.30" text-anchor="start" fill="#111" letter-spacing="0.15" stroke="#111" stroke-width="0.3">Early</text>
<text x="306.00" y="265.50" font-size="7.15" text-anchor="start" fill="#111" stroke="#111" stroke-width="0.22">Log rank</text>
<text x="306.00" y="274.00" font-size="7.15" text-anchor="start" fill="#111" stroke="#111" stroke-width="0.22">No vs. Early: p=0.99</text>
<text x="306.00" y="282.50" font-size="7.15" text-anchor="start" fill="#111" stroke="#111" stroke-width="0.22">No vs. Late: p=0.11</text>
<text x="306.00" y="290.90" font-size="7.15" text-anchor="start" fill="#111" stroke="#111" stroke-width="0.22">Early vs. Late: p=0.16</text>
<path d="M480.80 265.00 h3.7 v-1.9 h4.5 v1.3" fill="none" stroke="#151515" stroke-width="1.0"/>
<text x="491.30" y="266.10" font-size="4.65" font-weight="bold" text-anchor="start" fill="#111" letter-spacing="0.08" stroke="#111" stroke-width="0.2">No ATG</text>
<path d="M480.80 271.00 h3.7 v-1.9 h4.5 v1.3" fill="none" stroke="#2e2e2e" stroke-width="1.0"/>
<text x="491.30" y="272.10" font-size="4.65" font-weight="bold" text-anchor="start" fill="#111" letter-spacing="0.08" stroke="#111" stroke-width="0.2">Early ATG</text>
<path d="M480.80 277.00 h3.7 v-1.9 h4.5 v1.3" fill="none" stroke="#b0b0b0" stroke-width="0.7"/>
<text x="491.30" y="278.10" font-size="4.65" font-weight="bold" text-anchor="start" fill="#111" letter-spacing="0.08" stroke="#111" stroke-width="0.2">Late ATG</text>
<path d="M481.10 282.40 h7.4 M484.70 280.70 v3.4" fill="none" stroke="#6a6a6a" stroke-width="0.5"/>
<text x="491.60" y="284.10" font-size="5.00" font-weight="bold" text-anchor="start" fill="#111" letter-spacing="0.10" stroke="#111" stroke-width="0.2">0-censored</text>
<path d="M481.10 288.40 h7.4 M484.70 286.70 v3.4" fill="none" stroke="#8a8a8a" stroke-width="0.5"/>
<text x="491.60" y="290.10" font-size="5.00" font-weight="bold" text-anchor="start" fill="#111" letter-spacing="0.10" stroke="#111" stroke-width="0.2">1-censored</text>
<path d="M481.10 294.40 h7.4 M484.70 292.70 v3.4" fill="none" stroke="#c4c4c4" stroke-width="0.5"/>
<text x="491.60" y="296.10" font-size="5.00" font-weight="bold" text-anchor="start" fill="#111" letter-spacing="0.10" stroke="#111" stroke-width="0.2">2-censored</text>
</svg>
</body>
</html>
